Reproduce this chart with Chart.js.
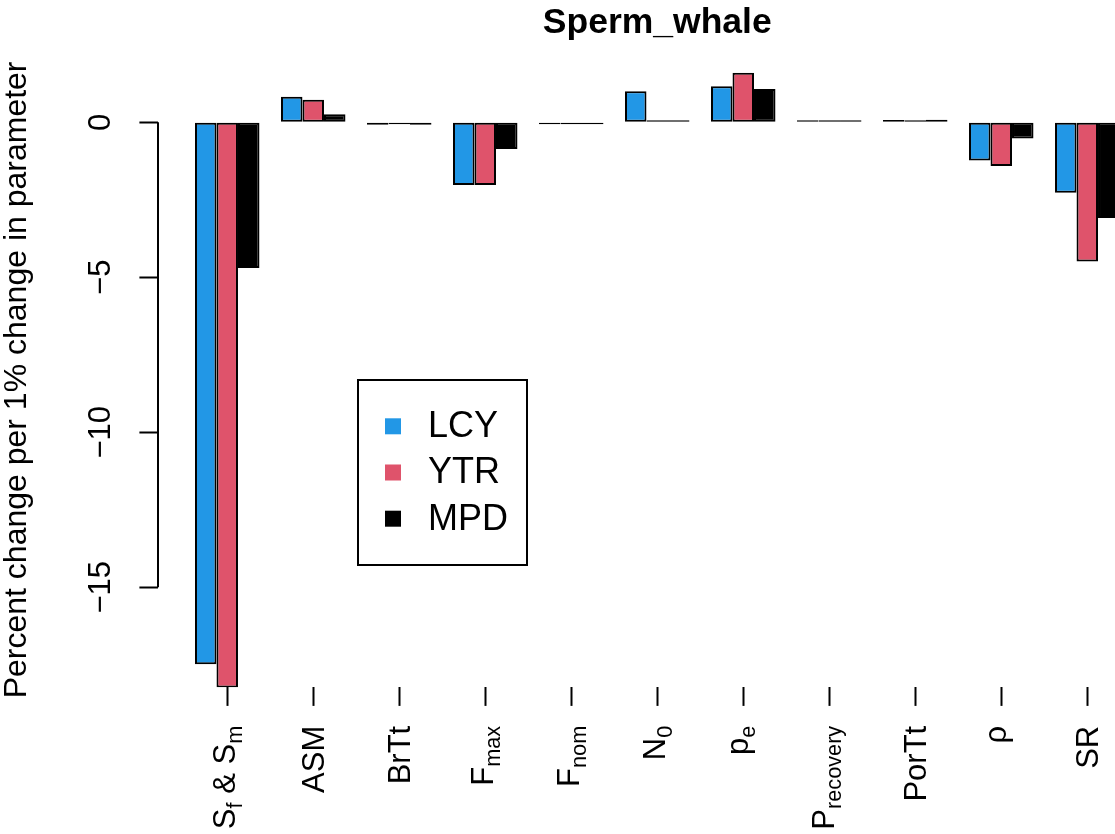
<!DOCTYPE html>
<html><head><meta charset="utf-8">
<script src="https://cdn.jsdelivr.net/npm/chart.js@4.4.1/dist/chart.umd.min.js"></script>
<style>
html,body{margin:0;padding:0;background:#fff;overflow:hidden;width:1115px;height:834px}
#wrap{width:1200px;height:834px}
canvas{display:block}
</style></head>
<body><div id="wrap"><canvas id="c" width="1200" height="834"></canvas></div>
<script>
// ---- data ----
const chartTitle = 'Sperm_whale';
const yAxisTitle = 'Percent change per 1% change in parameter';
const categories = ['S_{f} & S_{m}', 'ASM', 'BrTt', 'F_{max}', 'F_{nom}', 'N_{0}', 'p_{e}', 'P_{recovery}', 'PorTt', '\u03c1', 'SR'];
const seriesNames = ['LCY', 'YTR', 'MPD'];
const LCY = [-17.48, 0.82, -0.08, -2.02, -0.02, 1.00, 1.16, 0.03, 0.07, -1.23, -2.27];
const YTR = [-18.23, 0.73, -0.03, -2.02, -0.02, 0.01, 1.60, 0.02, 0.04, -1.41, -4.49];
const MPD = [-4.70, 0.26, -0.08, -0.86, -0.02, 0.01, 1.07, 0.03, 0.08, -0.52, -3.09];
const yTicks = [0, -5, -10, -15];

// ---- style ----
const FONT = '"Liberation Sans", Arial, Helvetica, sans-serif';
Chart.defaults.font.family = FONT;
Chart.defaults.color = '#000';

function toPoints(arr){ return arr.map((v,i)=>({x:i, y:v})); }

function parseLabel(s){
  const segs=[]; const re=/_\{([^}]*)\}/g; let last=0, m;
  while((m=re.exec(s))){
    if(m.index>last) segs.push({t:s.slice(last,m.index), sub:false});
    segs.push({t:m[1], sub:true}); last=re.lastIndex;
  }
  if(last<s.length) segs.push({t:s.slice(last), sub:false});
  return segs;
}

const xLabelPlugin = {
  id:'xLabels',
  afterDraw(chart){
    const ctx=chart.ctx, xs=chart.scales.x;
    const fs=31, sfs=fs*0.7, shift=fs*0.22;
    const yEnd = chart.chartArea.bottom + 38.5;
    categories.forEach((lab,i)=>{
      const x = xs.getPixelForValue(i);
      const segs = parseLabel(lab);
      ctx.save();
      let total=0, top=Infinity, bot=-Infinity;
      segs.forEach(sg=>{
        ctx.font = (sg.sub?sfs:fs)+'px '+FONT;
        const m = ctx.measureText(sg.t);
        sg.w = m.width;
        const off = sg.sub?shift:0;
        if (sg.t.trim().length){
          top=Math.min(top, off-m.actualBoundingBoxAscent);
          bot=Math.max(bot, off+m.actualBoundingBoxDescent);
        }
        total+=sg.w;
      });
      const base = -(top+bot)/2;
      ctx.translate(x, yEnd);
      ctx.rotate(-Math.PI/2);
      ctx.fillStyle='#000'; ctx.textAlign='left'; ctx.textBaseline='alphabetic';
      let cx=-total;
      segs.forEach(sg=>{
        ctx.font = (sg.sub?sfs:fs)+'px '+FONT;
        ctx.fillText(sg.t, cx, base + (sg.sub?shift:0));
        cx+=sg.w;
      });
      ctx.restore();
    });
  }
};

const yLinePlugin = {
  id:'yLine',
  afterDraw(chart){
    const ys=chart.scales.y, ctx=chart.ctx;
    const x = ys.right;
    ctx.save(); ctx.strokeStyle='#000'; ctx.lineWidth=2;
    ctx.beginPath();
    ctx.moveTo(x, ys.getPixelForValue(yTicks[0]));
    ctx.lineTo(x, ys.getPixelForValue(yTicks[yTicks.length-1]));
    ctx.stroke(); ctx.restore();
  }
};

const legendPlugin = {
  id:'boxLegend',
  afterDraw(chart){
    const ctx=chart.ctx;
    const bx=358, by=380, bw=169, bh=185;
    ctx.save();
    ctx.fillStyle='#fff'; ctx.fillRect(bx,by,bw,bh);
    ctx.strokeStyle='#000'; ctx.lineWidth=2; ctx.strokeRect(bx,by,bw,bh);
    ctx.font='36px '+FONT; ctx.textBaseline='middle'; ctx.textAlign='left';
    chart.data.datasets.forEach((ds,i)=>{
      const cy = 426.3 + i*46.2;
      ctx.fillStyle=ds.backgroundColor;
      ctx.fillRect(385, cy-8, 16, 16);
      ctx.fillStyle='#000';
      ctx.fillText(ds.label, 428, cy+1);
    });
    ctx.restore();
  }
};

const seriesData = [LCY, YTR, MPD];
const seriesColors = ['#2297E6', '#DF536B', '#000000'];

new Chart(document.getElementById('c'), {
  type:'bar',
  data:{
    datasets: seriesNames.map((n,i)=>({
      label:n, data:toPoints(seriesData[i]),
      backgroundColor:seriesColors[i], borderColor:'#000', borderWidth:2, borderSkipped:false,
      minBarLength:2, categoryPercentage:0.75, barPercentage:1.0
    }))
  },
  options:{
    responsive:false, animation:false, devicePixelRatio:1,
    layout:{padding:{top:0,left:0,right:43.5,bottom:0}},
    plugins:{
      legend:{display:false}, tooltip:{enabled:false},
      title:{display:true, text:chartTitle, fullSize:false, color:'#000',
        font:{size:35.5, weight:'bold', lineHeight:1.2}, padding:{top:1.6,bottom:28.3}}
    },
    scales:{
      x:{ type:'linear', min:-0.805, max:10.805, offset:false,
        afterBuildTicks:s=>{ s.ticks = categories.map((c,i)=>({value:i})); },
        ticks:{display:false},
        grid:{display:true, offset:false, drawOnChartArea:false, drawTicks:true, tickLength:18.6, tickWidth:2, tickColor:'#000'},
        border:{display:false},
        afterFit:s=>{ s.height = 146.7; }
      },
      y:{ min:-18.226, max:1.606,
        afterBuildTicks:s=>{ s.ticks = yTicks.map(v=>({value:v})); },
        ticks:{ minRotation:90, maxRotation:90, crossAlign:'center', padding:12, color:'#000',
          font:{size:31}, callback:v=> v<0 ? '\u2212'+Math.abs(v) : String(v) },
        grid:{display:true, drawOnChartArea:false, drawTicks:true, tickLength:18.6, tickWidth:2, tickColor:'#000'},
        border:{display:false},
        title:{display:true, text:yAxisTitle, color:'#000', font:{size:32, lineHeight:1}, padding:{top:0.8,bottom:0}},
        afterFit:s=>{ s.width = 158; }
      }
    }
  },
  plugins:[yLinePlugin, xLabelPlugin, legendPlugin]
});
</script>
</body></html>
